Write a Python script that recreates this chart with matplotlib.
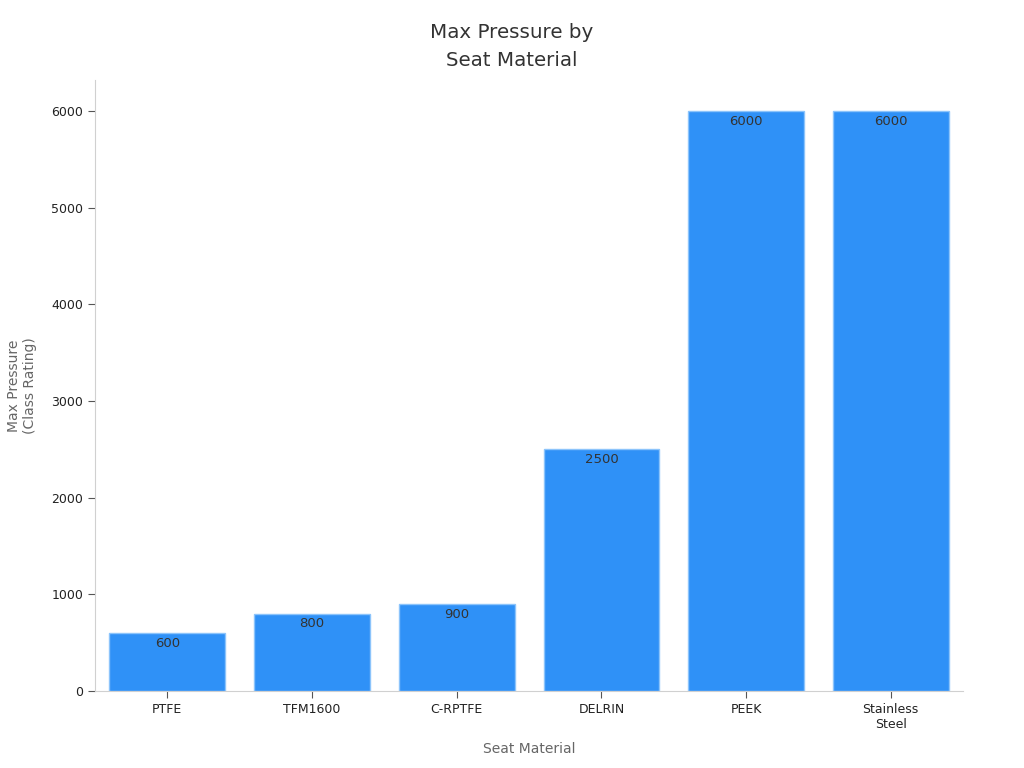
import matplotlib.pyplot as plt

materials = ['PTFE', 'TFM1600', 'C-RPTFE', 'DELRIN', 'PEEK', 'Stainless\nSteel']
max_pressure = [600, 800, 900, 2500, 6000, 6000]

fig = plt.figure(figsize=(10.24, 7.68), dpi=100)
ax = fig.add_axes([0.0928, 0.1003, 0.8477, 0.7957])

bars = ax.bar(range(len(materials)), max_pressure, width=0.8,
              color='#2f91f7', edgecolor='#8cc4fb', linewidth=1)

for b, v in zip(bars, max_pressure):
    ax.text(b.get_x() + b.get_width() / 2, v - 40, str(v),
            ha='center', va='top', fontsize=9.5, color='#333333')

ax.set_xlim(-0.5, 5.5)
ax.set_ylim(0, 6320)
ax.set_yticks([0, 1000, 2000, 3000, 4000, 5000, 6000])
ax.set_xticks(range(len(materials)))
ax.set_xticklabels(materials)

for s in ['top', 'right']:
    ax.spines[s].set_visible(False)
for s in ['left', 'bottom']:
    ax.spines[s].set_color('#d0d0d0')

ax.tick_params(axis='both', labelsize=9, colors='#222222', length=5, width=0.8)
ax.tick_params(axis='both', color='#555555')

ax.set_xlabel('Seat Material', fontsize=10, color='#666666', labelpad=8)
ax.set_ylabel('Max Pressure\n(Class Rating)', fontsize=10, color='#666666', labelpad=10)
fig.text(0.5, 1 - 46 / 768, 'Max Pressure by\nSeat Material', fontsize=14.3,
         color='#333333', ha='center', va='center', linespacing=1.6)

fig.savefig('out.png', dpi=100)
